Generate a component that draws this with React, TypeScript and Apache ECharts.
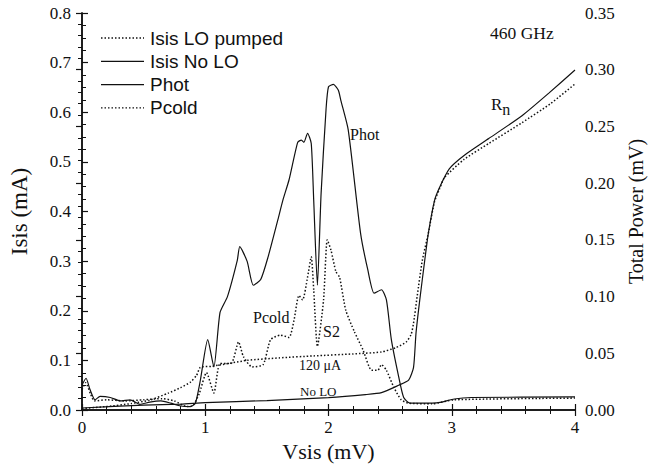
import React, { useEffect, useRef } from "react";
import * as echarts from "echarts";

// Vsis (mV) / Isis (mA) — I-V curve without LO
const isisNoLO: [number, number][] = [
  [0, 0.004], [0.5, 0.010], [0.8, 0.012], [1.0, 0.015], [1.5, 0.019], [2.0, 0.025],
  [2.3, 0.031], [2.43, 0.035], [2.57, 0.050], [2.65, 0.060], [2.69, 0.086],
  [2.71, 0.155], [2.74, 0.221], [2.78, 0.30], [2.81, 0.356], [2.86, 0.422],
  [2.90, 0.448], [2.98, 0.486], [3.10, 0.513], [3.30, 0.547], [3.57, 0.593],
  [3.79, 0.639], [4.0, 0.685],
];

// I-V curve with LO pumped
const isisLOPumped: [number, number][] = [
  [0, 0.003], [0.2, 0.007], [0.4, 0.013], [0.55, 0.020], [0.7, 0.034], [0.8, 0.045],
  [0.88, 0.056], [0.93, 0.070], [0.96, 0.086], [1.05, 0.088], [1.34, 0.100],
  [1.6, 0.105], [1.88, 0.109], [2.2, 0.113], [2.43, 0.117], [2.55, 0.126],
  [2.63, 0.137], [2.67, 0.152], [2.69, 0.175], [2.72, 0.23], [2.76, 0.30],
  [2.81, 0.356], [2.86, 0.42], [2.90, 0.445], [2.94, 0.468], [3.1, 0.505],
  [3.3, 0.537], [3.57, 0.579], [3.8, 0.617], [4.0, 0.657],
];

// Total power (mV), hot load
const phot: [number, number][] = [
  [0, 0.022], [0.033, 0.028], [0.065, 0.018], [0.106, 0.009], [0.147, 0.012],
  [0.23, 0.011], [0.31, 0.008], [0.39, 0.009], [0.47, 0.005], [0.55, 0.007],
  [0.64, 0.008], [0.72, 0.006], [0.80, 0.0035], [0.88, 0.003], [0.92, 0.006],
  [0.96, 0.026], [1.02, 0.062], [1.07, 0.038], [1.12, 0.086], [1.18, 0.100],
  [1.26, 0.132], [1.28, 0.144], [1.34, 0.131], [1.39, 0.110], [1.45, 0.115],
  [1.51, 0.135], [1.59, 0.168], [1.63, 0.185], [1.68, 0.203], [1.75, 0.236],
  [1.78, 0.238], [1.80, 0.236], [1.83, 0.244], [1.86, 0.235], [1.88, 0.185],
  [1.91, 0.110], [1.94, 0.191], [1.98, 0.265], [2.00, 0.285], [2.04, 0.287],
  [2.08, 0.282], [2.10, 0.273], [2.16, 0.247], [2.26, 0.156], [2.32, 0.123],
  [2.37, 0.103], [2.43, 0.106], [2.47, 0.097], [2.51, 0.062], [2.57, 0.029],
  [2.61, 0.011], [2.66, 0.006], [2.84, 0.006], [2.92, 0.007], [3.02, 0.0097],
  [3.16, 0.011], [4.0, 0.0115],
];

// Total power (mV), cold load
const pcold: [number, number][] = [
  [0, 0.018], [0.03, 0.024], [0.07, 0.014], [0.1, 0.008], [0.2, 0.009],
  [0.35, 0.008], [0.5, 0.009], [0.65, 0.010], [0.75, 0.008], [0.85, 0.003],
  [0.9, 0.004], [0.95, 0.014], [1.01, 0.033], [1.07, 0.015], [1.12, 0.041],
  [1.21, 0.041], [1.27, 0.060], [1.31, 0.047], [1.38, 0.038], [1.47, 0.040],
  [1.53, 0.062], [1.61, 0.066], [1.68, 0.064], [1.72, 0.079], [1.76, 0.101],
  [1.79, 0.097], [1.83, 0.117], [1.86, 0.135], [1.88, 0.106], [1.91, 0.056],
  [1.96, 0.097], [1.99, 0.150], [2.02, 0.141], [2.06, 0.122], [2.09, 0.117],
  [2.14, 0.088], [2.21, 0.069], [2.28, 0.053], [2.35, 0.035], [2.40, 0.035],
  [2.43, 0.040], [2.47, 0.035], [2.53, 0.020], [2.59, 0.009], [2.65, 0.006],
  [2.84, 0.0055], [3.02, 0.009], [4.0, 0.0105],
];

const legendNames = ["Isis LO pumped", "Isis No LO", "Phot", "Pcold"];
const legendDotted = [true, false, false, true];

const SERIF = "Liberation Serif";
const SANS = "Liberation Sans";

export default function App() {
  const ref = useRef<HTMLDivElement>(null);
  useEffect(() => {
    if (!ref.current) return;
    document.body.style.margin = "0";
    const chart = echarts.init(ref.current, undefined, { renderer: "svg" });
    const tickLabel = { color: "#111", fontFamily: SERIF, fontSize: 17 };
    const axisLine = { show: true, lineStyle: { color: "#111", width: 1.5 } };
    const solid = { color: "#111", width: 1.2, type: "solid" as const };
    const dotted = { color: "#111", width: 1.5, type: [1.5, 2] as any };
    const tick = { inside: true, length: 6, lineStyle: { color: "#111", width: 1.2 } };
    const legendGraphics: any[] = [];
    legendNames.forEach((n, i) => {
      const y = 38 + i * 23.3;
      legendGraphics.push({
        type: "line",
        shape: { x1: 101, y1: y, x2: 144, y2: y },
        style: { stroke: "#111", lineWidth: legendDotted[i] ? 1.4 : 1.2, lineDash: legendDotted[i] ? [1.5, 2] : null },
      });
      legendGraphics.push({
        type: "text", x: 150, y,
        style: { text: n, fontFamily: SANS, fontSize: 19, fill: "#111", verticalAlign: "middle" },
      });
    });
    chart.setOption({
      animation: false,
      backgroundColor: "#fff",
      grid: { left: 82, right: 75, top: 13, bottom: 56, outerBoundsMode: "none" } as any,
      xAxis: [
        {
          type: "value", min: 0, max: 4, interval: 1,
          name: "Vsis (mV)", nameLocation: "middle", nameGap: 25,
          nameTextStyle: { fontFamily: SERIF, fontSize: 22, color: "#111" },
          axisLine, axisTick: tick,
          minorTick: { show: true, splitNumber: 5, length: 4, lineStyle: { color: "#111" } },
          axisLabel: { ...tickLabel, margin: 9 }, splitLine: { show: false },
        },
        {
          type: "value", min: 0, max: 4, interval: 1, position: "top",
          axisLine, axisTick: tick,
          minorTick: { show: true, splitNumber: 5, length: 4, lineStyle: { color: "#111" } },
          axisLabel: { show: false }, splitLine: { show: false },
        },
      ],
      yAxis: [
        {
          type: "value", min: 0, max: 0.8, interval: 0.1,
          name: "Isis (mA)", nameLocation: "middle", nameGap: 51,
          nameTextStyle: { fontFamily: SERIF, fontSize: 23, color: "#111" },
          axisLine, axisTick: tick,
          minorTick: { show: true, splitNumber: 4, length: 4, lineStyle: { color: "#111" } },
          axisLabel: { ...tickLabel, margin: 11, formatter: (v: number) => v.toFixed(1) },
          splitLine: { show: false },
        },
        {
          type: "value", min: 0, max: 0.35, interval: 0.05, position: "right",
          name: "Total Power (mV)", nameLocation: "middle", nameGap: 44,
          nameTextStyle: { fontFamily: SERIF, fontSize: 20, color: "#111" },
          axisLine, axisTick: tick,
          minorTick: { show: true, splitNumber: 5, length: 4, lineStyle: { color: "#111" } },
          axisLabel: { ...tickLabel, margin: 10, formatter: (v: number) => v.toFixed(2) },
          splitLine: { show: false },
        },
      ],
      series: [
        { name: "Isis LO pumped", type: "line", xAxisIndex: 0, yAxisIndex: 0, data: isisLOPumped, showSymbol: false, smooth: 0.2, lineStyle: dotted, itemStyle: { color: "#111" } },
        { name: "Isis No LO", type: "line", xAxisIndex: 0, yAxisIndex: 0, data: isisNoLO, showSymbol: false, smooth: 0.2, lineStyle: solid, itemStyle: { color: "#111" } },
        { name: "Phot", type: "line", xAxisIndex: 0, yAxisIndex: 1, data: phot, showSymbol: false, smooth: 0.2, lineStyle: solid, itemStyle: { color: "#111" } },
        { name: "Pcold", type: "line", xAxisIndex: 0, yAxisIndex: 1, data: pcold, showSymbol: false, smooth: 0.2, lineStyle: dotted, itemStyle: { color: "#111" } },
      ],
      graphic: [
        ...legendGraphics,
        { type: "text", x: 490, y: 33, style: { text: "460 GHz", fontFamily: SERIF, fontSize: 17.5, fill: "#111", verticalAlign: "middle" } },
        { type: "text", x: 491, y: 92, style: { text: "R{s|n}", fontFamily: SERIF, fontSize: 17, fill: "#111", rich: { s: { fontFamily: SERIF, fontSize: 16, padding: [9, 0, 0, 0] } } } as any },
        { type: "text", x: 350, y: 134, style: { text: "Phot", fontFamily: SERIF, fontSize: 16, fill: "#111", verticalAlign: "middle" } },
        { type: "text", x: 253, y: 317, style: { text: "Pcold", fontFamily: SERIF, fontSize: 16, fill: "#111", verticalAlign: "middle" } },
        { type: "text", x: 323, y: 331, style: { text: "S2", fontFamily: SERIF, fontSize: 16, fill: "#111", verticalAlign: "middle" } },
        { type: "text", x: 299, y: 365, style: { text: "120 μA", fontFamily: SERIF, fontSize: 14, fill: "#111", verticalAlign: "middle" } },
        { type: "text", x: 300, y: 391, style: { text: "No LO", fontFamily: SERIF, fontSize: 13, fill: "#111", verticalAlign: "middle" } },
      ],
    });
    return () => chart.dispose();
  }, []);
  return <div ref={ref} style={{ width: 650, height: 466 }} />;
}
